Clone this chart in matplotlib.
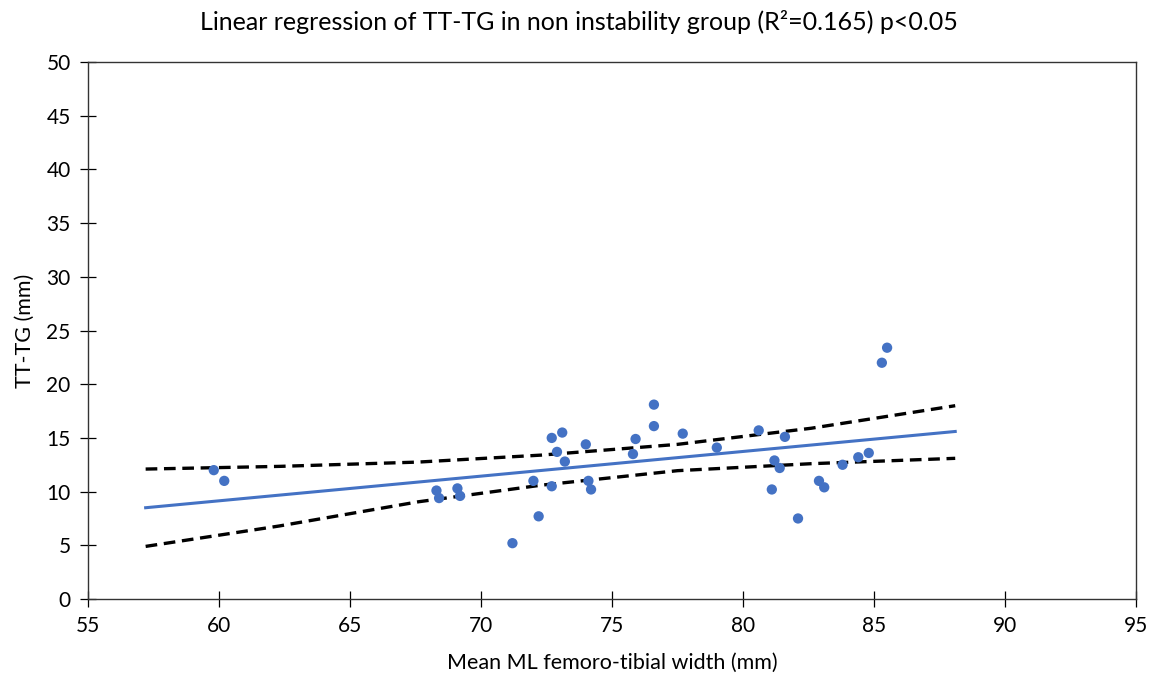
import numpy as np
import matplotlib.pyplot as plt

plt.rcParams["font.family"] = ["Lato", "DejaVu Sans"]

# scatter data (mean ML femoro-tibial width, TT-TG)
width_mm = [59.8, 60.2, 68.3, 68.4, 69.1, 69.2, 71.2, 72.2, 72.0, 72.7, 72.7,
            73.1, 72.9, 73.2, 74.0, 74.1, 74.2, 75.8, 75.9, 76.6, 76.6, 77.7,
            79.0, 80.6, 81.2, 81.4, 81.6, 81.1, 82.1, 82.9, 83.1, 83.8, 84.4,
            84.8, 85.3, 85.5]
tttg_mm = [12.0, 11.0, 10.1, 9.4, 10.3, 9.6, 5.2, 7.7, 11.0, 10.5, 15.0,
           15.5, 13.7, 12.8, 14.4, 11.0, 10.2, 13.5, 14.9, 18.1, 16.1, 15.4,
           14.1, 15.7, 12.9, 12.2, 15.1, 10.2, 7.5, 11.0, 10.4, 12.5, 13.2,
           13.6, 22.0, 23.4]

# regression line end points
fit_x = [57.2, 88.1]
fit_y = [8.5, 15.6]

# confidence band
band_x = [57.2, 62.3, 67.6, 72.3, 77.5, 82.6, 88.1]
band_upper = [12.1, 12.35, 12.75, 13.4, 14.4, 15.9, 18.0]
band_lower = [4.9, 6.8, 9.05, 10.6, 11.95, 12.6, 13.1]

blue = "#4472C4"

fig = plt.figure(figsize=(11.58, 6.78), dpi=100)
ax = fig.add_axes([0.076, 0.1165, 0.905, 0.792])

ax.plot(fit_x, fit_y, color=blue, linewidth=2.2, zorder=2)
ax.plot(band_x, band_upper, color="black", linestyle=(0, (3.5, 2)), linewidth=2.4, zorder=3)
ax.plot(band_x, band_lower, color="black", linestyle=(0, (3.5, 2)), linewidth=2.4, zorder=3)
ax.scatter(width_mm, tttg_mm, s=55, color=blue, edgecolors="none", zorder=4)

ax.set_xlim(55, 95)
ax.set_ylim(0, 50)
ax.set_xticks(np.arange(55, 96, 5))
ax.set_yticks(np.arange(0, 51, 5))
ax.tick_params(direction="inout", length=11, width=0.9, labelsize=15, pad=7)
for s in ax.spines.values():
    s.set_linewidth(1.0)
    s.set_color("#333333")

ax.set_xlabel("Mean ML femoro-tibial width (mm)", fontsize=15.5, labelpad=12)
ax.set_ylabel("TT-TG (mm)", fontsize=15.5, labelpad=8)
fig.suptitle("Linear regression of TT-TG in non instability group (R²=0.165) p<0.05",
             fontsize=18, x=0.5, y=0.985)

fig.savefig("out.png", dpi=100)
